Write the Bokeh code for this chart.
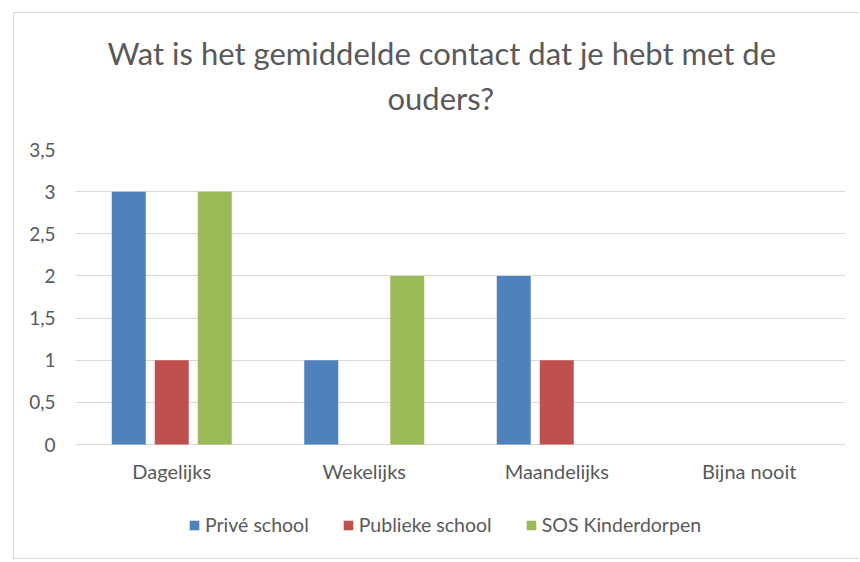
from bokeh.plotting import figure
from bokeh.models import FactorRange, FixedTicker, Legend, LegendItem, Title, Range1d, ColumnDataSource
from bokeh.transform import dodge
from bokeh.embed import file_html
from bokeh.resources import INLINE

categories = ["Dagelijks", "Wekelijks", "Maandelijks", "Bijna nooit"]
prive = [3, 1, 2, 0]
publiek = [1, 0, 1, 0]
sos = [3, 2, 0, 0]
series_names = ["Privé school", "Publieke school", "SOS Kinderdorpen"]
series_colors = ["#4f81bd", "#c0504d", "#9bbb59"]
y_ticks = [0, 0.5, 1, 1.5, 2, 2.5, 3, 3.5]
y_tick_labels = ["0", "0,5", "1", "1,5", "2", "2,5", "3", "3,5"]
title_line1 = "Wat is het gemiddelde contact dat je hebt met de"
title_line2 = "ouders?"

FONT = "Lato"
GREY = "#595959"

# layout (pixels): the value axis 0..3.5 spans 295 px; the frame continues
# below 0 so the legend row can sit inside it under the category labels.
Y_MAX = 3.5
AXIS_PX = 295
FRAME_PX = 396
y_min = -Y_MAX * (FRAME_PX - AXIS_PX) / AXIS_PX

source = ColumnDataSource(dict(cat=categories, prive=prive, publiek=publiek, sos=sos))

p = figure(x_range=FactorRange(*categories), y_range=Range1d(y_min, Y_MAX),
           width=846, height=547, output_backend="svg", toolbar_location=None,
           min_border_left=61, min_border_right=15, min_border_top=136, min_border_bottom=15)
p.styles = {"margin-left": "13px", "margin-top": "12px",
            "border-left": "1px solid #d9d9d9", "border-top": "1px solid #d9d9d9",
            "border-bottom": "1px solid #d9d9d9"}
p.outline_line_color = None
p.background_fill_color = "white"
p.border_fill_color = "white"

step = 0.2234
bw = 0.1766
renderers = []
for i, (col, name, color) in enumerate(zip(["prive", "publiek", "sos"], series_names, series_colors)):
    r = p.vbar(x=dodge("cat", (i - 1) * step, range=p.x_range), top=col, width=bw,
               source=source, fill_color=color, line_color=None)
    renderers.append(r)

# titles (first added is closest to the frame)
spacer = Title(text=" ", text_font_size="1px", standoff=30)
t2 = Title(text=title_line2, align="left", offset=312, text_font=FONT, text_font_size="31px",
           text_font_style="normal", text_color=GREY, standoff=0)
t1 = Title(text=title_line1, align="left", offset=32, text_font=FONT, text_font_size="31px",
           text_font_style="normal", text_color=GREY, standoff=10)
p.add_layout(spacer, "above")
p.add_layout(t2, "above")
p.add_layout(t1, "above")

# axes
p.yaxis.ticker = FixedTicker(ticks=y_ticks)
p.yaxis.major_label_overrides = {t: l for t, l in zip(y_ticks, y_tick_labels)}
p.yaxis.axis_line_color = None
p.yaxis.major_tick_line_color = None
p.yaxis.minor_tick_line_color = None
p.yaxis.major_tick_out = 0
p.yaxis.major_tick_in = 0
p.yaxis.major_label_standoff = 20
p.yaxis.major_label_text_font = FONT
p.yaxis.major_label_text_font_size = "19px"
p.yaxis.major_label_text_color = GREY

p.xaxis.fixed_location = 0
p.xaxis.axis_line_color = None
p.xaxis.major_tick_line_color = None
p.xaxis.major_tick_out = 0
p.xaxis.major_tick_in = 0
p.xaxis.major_label_standoff = 14
p.xaxis.major_label_text_font = FONT
p.xaxis.major_label_text_font_size = "20px"
p.xaxis.major_label_text_color = GREY

p.xgrid.grid_line_color = None
p.ygrid.ticker = FixedTicker(ticks=y_ticks)
p.ygrid.grid_line_color = "#d9d9d9"
p.ygrid.grid_line_width = 1

# legend row under the category labels (offset from the frame's bottom-left corner)
legend = Legend(items=[LegendItem(label=n, renderers=[r]) for n, r in zip(series_names, renderers)],
                orientation="horizontal", location=(113, 9), border_line_color=None,
                background_fill_alpha=0, label_text_font=FONT, label_text_font_size="19.5px",
                label_text_color=GREY, glyph_width=12, glyph_height=12, spacing=33,
                label_standoff=5, padding=4, margin=0)
p.add_layout(legend, "center")

open("out.html", "w").write(file_html(p, INLINE))
